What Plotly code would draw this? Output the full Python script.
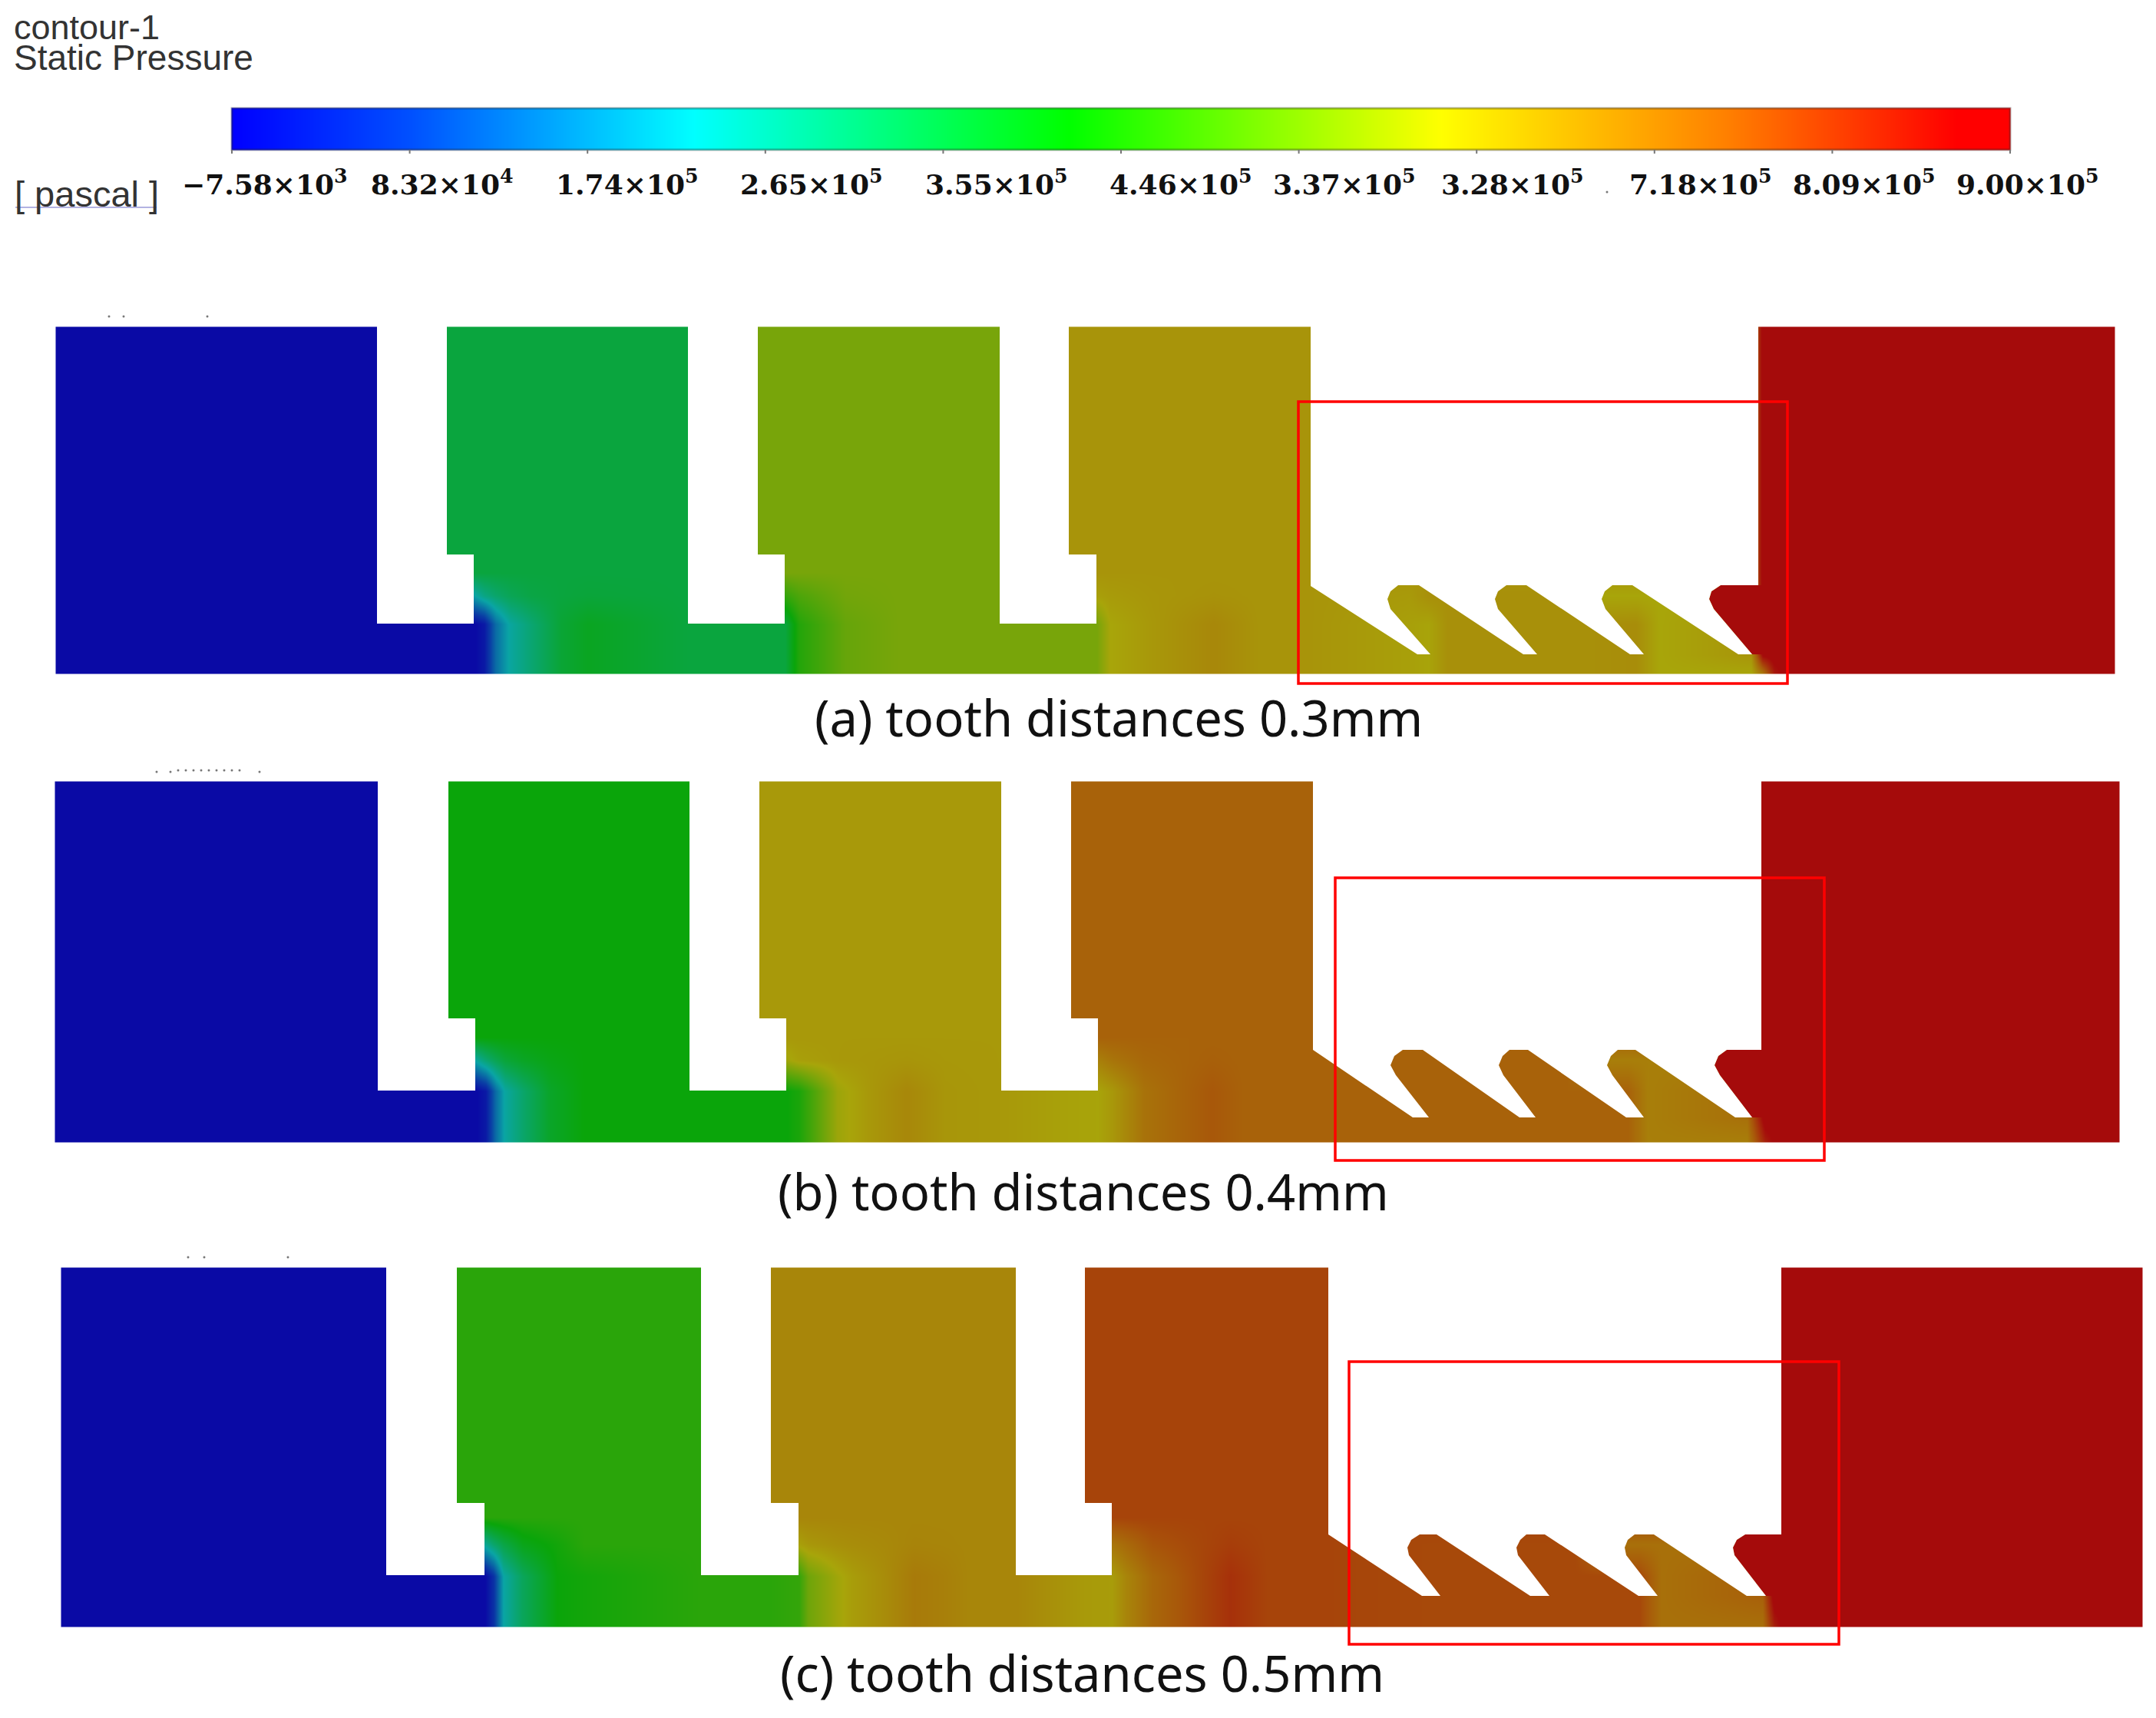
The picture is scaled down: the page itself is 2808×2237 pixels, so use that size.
import plotly.graph_objects as go

W, H = 2808, 2237

# pressure scale, kPa
p_min, p_max = -7.58, 900
bar_ticks = [302, 533.6, 765.2, 996.8, 1228.4, 1460, 1691.6, 1923.2, 2154.8, 2386.4, 2618]
bar_values = [-7.58, 83.2, 174, 265, 355, 446, 537, 628, 718, 809, 900]
bar_labels = ["\u22127.58\u00d710<sup>3</sup>", "8.32\u00d710<sup>4</sup>", "1.74\u00d710<sup>5</sup>",
              "2.65\u00d710<sup>5</sup>", "3.55\u00d710<sup>5</sup>", "4.46\u00d710<sup>5</sup>",
              "3.37\u00d710<sup>5</sup>", "3.28\u00d710<sup>5</sup>", "7.18\u00d710<sup>5</sup>",
              "8.09\u00d710<sup>5</sup>", "9.00\u00d710<sup>5</sup>"]
label_x = [345, 575, 816, 1056, 1297, 1537, 1750, 1969, 2214, 2427, 2640]

scale_stops = [0, 0.10, 0.26, 0.47, 0.68, 0.84, 0.97, 1]
bar_colors = ["#0000ff", "#0050ff", "#00ffff", "#00ff00", "#ffff00", "#ff8000", "#ff0000", "#ff0000"]
field_colors = ["#0a0aa5", "#0a3da5", "#0aa5a5", "#0aa50a", "#a8a50a", "#a8580a", "#a50b0b", "#a50b0b"]

captions = ["(a) tooth distances 0.3mm", "(b) tooth distances 0.4mm", "(c) tooth distances 0.5mm"]
caption_x = [1457, 1411, 1409]
caption_y = [934, 1551, 2178]

# panel (a), stations along the channel and pressure rows
a_x = [73, 74, 495, 578, 618, 630, 645, 663, 690, 730, 765, 896, 987, 1022, 1040, 1100, 1170, 1302, 1392,
       1428, 1445, 1500, 1580, 1640, 1707, 1835, 1860, 1885, 2050, 2075, 2130, 2160, 2280, 2295, 2310, 2330, 2753, 2754]
a_y = [426, 427, 745, 775, 812, 852, 876, 877]
a_upper = [-8, -8, -8, 355, 355, 355, 355, 355, 355, 355, 355, 355, 552, 552, 552, 552, 552, 552, 641,
           641, 641, 641, 641, 641, 641, 641, 641, 641, 641, 641, 641, 641, 641, 900, 900, 900, 900, 900]
a_mid = [-8, -8, -8, -8, 228, 270, 300, 325, 345, 355, 360, 355, 430, 470, 500, 545, 552, 552, 600,
         620, 628, 638, 645, 641, 641, 630, 650, 650, 650, 609, 609, 609, 609, 900, 900, 900, 900, 900]
a_low = [-8, -8, -8, -8, -8, 20, 150, 235, 290, 365, 390, 355, 355, 355, 450, 530, 552, 552, 552,
         552, 609, 635, 665, 641, 641, 620, 612, 650, 650, 650, 655, 609, 609, 700, 850, 900, 900, 900]
a_gap = a_low[:-6] + [640, 880, 900, 900, 900, 900]

# panel (b)
b_x = [72, 73, 495, 580, 620, 632, 645, 657, 680, 715, 760, 898, 989, 1024, 1040, 1090, 1130, 1180, 1230, 1304,
       1395, 1430, 1448, 1490, 1578, 1620, 1710, 1840, 1860, 1885, 2040, 2060, 2120, 2145, 2275, 2298, 2316, 2330, 2759, 2760]
b_y = [1018, 1019, 1350, 1380, 1420, 1455, 1486, 1487]
b_upper = [-8, -8, -8, 419, 419, 419, 419, 419, 419, 419, 419, 419, 633, 633, 633, 633, 633, 633, 633, 633,
           735, 735, 735, 735, 735, 735, 735, 735, 735, 735, 735, 735, 735, 735, 735, 900, 900, 900, 900, 900]
b_mid = [-8, -8, -8, -8, 240, 290, 330, 360, 385, 405, 419, 419, 500, 600, 620, 633, 636, 640, 635, 633,
         612, 680, 700, 725, 740, 735, 735, 735, 735, 735, 735, 682, 682, 682, 682, 900, 900, 900, 900, 900]
b_low = [-8, -8, -8, -8, -8, 20, 150, 235, 300, 380, 419, 419, 419, 419, 440, 595, 633, 665, 638, 633,
         615, 612, 635, 705, 755, 735, 735, 735, 735, 735, 735, 735, 735, 682, 682, 840, 900, 900, 900, 900]
b_gap = b_low[:-6] + [710, 900, 900, 900, 900, 900]

# panel (c)
c_x = [80, 81, 505, 590, 631, 642, 655, 680, 725, 760, 913, 1004, 1040, 1052, 1090, 1110, 1150, 1190, 1230, 1260, 1323,
       1413, 1448, 1465, 1500, 1602, 1650, 1730, 1860, 1885, 1905, 2050, 2080, 2135, 2163, 2295, 2310, 2320, 2335, 2789, 2790]
c_y = [1651, 1652, 1975, 2010, 2052, 2078, 2117, 2118]
c_upper = [-8, -8, -8, 458, 458, 458, 458, 458, 458, 458, 458, 668, 668, 668, 668, 668, 668, 668, 668, 668, 668,
           785, 785, 785, 785, 785, 785, 785, 785, 785, 785, 785, 785, 785, 785, 785, 900, 900, 900, 900, 900]
c_mid = [-8, -8, -8, -8, 250, 300, 345, 400, 430, 458, 458, 560, 620, 635, 650, 655, 662, 672, 670, 668, 668,
         640, 700, 720, 760, 795, 785, 785, 778, 778, 778, 778, 709, 709, 709, 709, 900, 900, 900, 900, 900]
c_low = [-8, -8, -8, -8, -8, 60, 228, 320, 419, 430, 458, 458, 470, 540, 600, 625, 655, 690, 680, 668, 668,
         630, 627, 668, 725, 815, 785, 785, 778, 778, 778, 778, 778, 778, 709, 709, 840, 880, 900, 900, 900]
c_gap = c_low[:-6] + [740, 900, 900, 900, 900, 900]

# solid parts of the seal (white), slot by slot
a_solid_x = [[491, 491, 617, 617, 582, 582], [896, 896, 1022, 1022, 987, 987], [1302, 1302, 1428, 1428, 1392, 1392],
             [1707, 1707, 1846, 1863, 1811, 1807, 1811, 1821, 1848, 1984, 2002, 1951, 1947, 1951, 1962, 1988, 2123,
              2141, 2091, 2086, 2090, 2100, 2126, 2264, 2282, 2232, 2226, 2229, 2241, 2290, 2290]]
a_solid_y = [[424, 812, 812, 722, 722, 424], [424, 812, 812, 722, 722, 424], [424, 812, 812, 722, 722, 424],
             [424, 763, 852, 852, 793, 780, 770, 762, 762, 852, 852, 793, 780, 770, 762, 762, 852,
              852, 793, 780, 770, 762, 762, 852, 852, 793, 780, 770, 762, 762, 424]]
b_solid_x = [[492, 492, 619, 619, 584, 584], [898, 898, 1024, 1024, 989, 989], [1304, 1304, 1430, 1430, 1395, 1395],
             [1710, 1710, 1840, 1861, 1818, 1811, 1816, 1827, 1853, 1979, 2000, 1958, 1952, 1957, 1966, 1990, 2118,
              2141, 2100, 2093, 2098, 2107, 2130, 2260, 2282, 2240, 2233, 2238, 2249, 2294, 2294]]
b_solid_y = [[1016, 1420, 1420, 1326, 1326, 1016], [1016, 1420, 1420, 1326, 1326, 1016], [1016, 1420, 1420, 1326, 1326, 1016],
             [1016, 1367, 1455, 1455, 1400, 1387, 1375, 1367, 1367, 1455, 1455, 1400, 1387, 1375, 1367, 1367, 1455,
              1455, 1400, 1387, 1375, 1367, 1367, 1455, 1455, 1400, 1387, 1375, 1367, 1367, 1016]]
c_solid_x = [[503, 503, 631, 631, 595, 595], [913, 913, 1040, 1040, 1004, 1004], [1323, 1323, 1448, 1448, 1413, 1413],
             [1730, 1730, 1852, 1876, 1835, 1833, 1838, 1849, 1871, 1993, 2018, 1977, 1975, 1980, 1988, 2012, 2134,
              2159, 2118, 2116, 2120, 2129, 2154, 2275, 2300, 2259, 2257, 2262, 2273, 2320, 2320]]
c_solid_y = [[1649, 2051, 2051, 1957, 1957, 1649], [1649, 2051, 2051, 1957, 1957, 1649], [1649, 2051, 2051, 1957, 1957, 1649],
             [1649, 1998, 2078, 2078, 2025, 2015, 2005, 1998, 1998, 2078, 2078, 2025, 2015, 2005, 1998, 1998, 2078,
              2078, 2025, 2015, 2005, 1998, 1998, 2078, 2078, 2025, 2015, 2005, 1998, 1998, 1649]]

# last tooth sits on the high pressure side
a_tooth_x = [2282, 2232, 2226, 2229, 2241, 2300, 2300]
a_tooth_y = [852, 793, 780, 770, 762, 762, 852]
b_tooth_x = [2282, 2240, 2233, 2238, 2249, 2300, 2300]
b_tooth_y = [1455, 1400, 1387, 1375, 1367, 1367, 1455]
c_tooth_x = [2300, 2259, 2257, 2262, 2273, 2325, 2325]
c_tooth_y = [2078, 2025, 2015, 2005, 1998, 1998, 2078]

# red boxes: x0, y0, x1, y1
red_boxes = [(1691, 523, 2328, 890), (1739, 1143, 2376, 1511), (1757, 1773, 2395, 2141)]

# clipped bits of text left over above each panel
speck_x = [142, 161, 270, 204, 222, 232, 242, 252, 262, 272, 282, 292, 302, 312, 338, 245, 266, 375, 2093]
speck_y = [412, 412, 412, 1005, 1005, 1003, 1003, 1003, 1003, 1003, 1003, 1003, 1003, 1003, 1005, 1637, 1637, 1637, 250]


def scale(colors):
    return [[s, c] for s, c in zip(scale_stops, colors)]


fig = go.Figure()

# colour bar
fig.add_trace(go.Heatmap(
    x=[bar_ticks[0], bar_ticks[0] + 1] + bar_ticks[1:-1] + [bar_ticks[-1] - 1, bar_ticks[-1]],
    y=[141, 142, 194, 195],
    z=[[bar_values[0]] + bar_values + [bar_values[-1]]] * 4,
    zmin=p_min, zmax=p_max, colorscale=scale(bar_colors), zsmooth="best", showscale=False,
))

panels = [
    (a_x, a_y, [a_upper, a_upper, a_upper, a_mid, a_gap, a_gap, a_low, a_low], a_tooth_x, a_tooth_y, a_solid_x, a_solid_y),
    (b_x, b_y, [b_upper, b_upper, b_upper, b_mid, b_gap, b_gap, b_low, b_low], b_tooth_x, b_tooth_y, b_solid_x, b_solid_y),
    (c_x, c_y, [c_upper, c_upper, c_upper, c_mid, c_gap, c_gap, c_low, c_low], c_tooth_x, c_tooth_y, c_solid_x, c_solid_y),
]
for xs, ys, zs, tx, ty, sx, sy in panels:
    fig.add_trace(go.Heatmap(x=xs, y=ys, z=zs, zmin=p_min, zmax=p_max, colorscale=scale(field_colors),
                             zsmooth="best", showscale=False))
    fig.add_trace(go.Scatter(x=tx, y=ty, mode="lines", fill="toself", fillcolor="#a50b0b", line=dict(width=0)))
    for px, py in zip(sx, sy):
        fig.add_trace(go.Scatter(x=px, y=py, mode="lines", fill="toself", fillcolor="white", line=dict(width=0)))

fig.add_trace(go.Scatter(x=speck_x, y=speck_y, mode="markers", marker=dict(size=3, color="#777777")))

shapes = [dict(type="rect", x0=302, x1=2618, y0=141, y1=195, line=dict(color="rgba(40,40,40,0.35)", width=3))]
for t in bar_ticks:
    shapes.append(dict(type="line", x0=t, x1=t, y0=195, y1=200, line=dict(color="#777777", width=2)))
for x0, y0, x1, y1 in red_boxes:
    shapes.append(dict(type="rect", x0=x0, x1=x1, y0=y0, y1=y1, line=dict(color="#ff0000", width=3.5)))
shapes.append(dict(type="line", x0=20, x1=204, y0=270, y1=270, line=dict(color="#9a9ad8", width=1.5)))

annotations = []
head = "Liberation Sans"
for text, x, y, size in [("contour-1", 16, 35, 45), ("Static Pressure", 16, 75, 46), ("[ pascal ]", 17, 252, 47)]:
    annotations.append(dict(x=x, y=y, text=text, xanchor="left", yanchor="middle", showarrow=False,
                            font=dict(family=head, size=size, color="#333333")))
for text, x in zip(bar_labels, label_x):
    annotations.append(dict(x=x, y=237, text=text, xanchor="center", yanchor="middle", showarrow=False,
                            font=dict(family="DejaVu Serif", size=36, color="#111111", weight="bold")))
for text, x, y in zip(captions, caption_x, caption_y):
    annotations.append(dict(x=x, y=y, text=text, xanchor="center", yanchor="middle", showarrow=False,
                            font=dict(family="Noto Sans", size=65, color="#111111")))

fig.update_layout(
    width=W, height=H, autosize=False, showlegend=False,
    margin=dict(l=0, r=0, t=0, b=0),
    paper_bgcolor="white", plot_bgcolor="white",
    xaxis=dict(range=[0, W], visible=False, fixedrange=True),
    yaxis=dict(range=[H, 0], visible=False, fixedrange=True),
    shapes=shapes, annotations=annotations,
)

fig.write_html("out.html", config=dict(displayModeBar=False), post_script="document.body.style.margin='0';")
